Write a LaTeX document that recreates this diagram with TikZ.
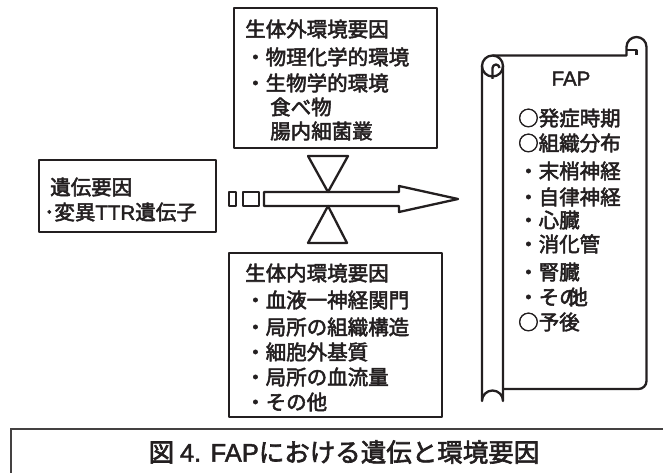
\documentclass[tikz,border=0pt]{standalone}
\usepackage{fontspec}
\setmainfont{Noto Sans CJK JP}[FakeBold=2.5]
\newfontfamily\lat{Liberation Sans}[FakeBold=1.8]
\definecolor{ink}{RGB}{35,31,32}
\begin{document}
\begin{tikzpicture}[x=1pt,y=-1pt,
  ln/.style={draw=ink,line width=2.3pt,line join=round},
  boxnode/.style={ln,rectangle,inner sep=0pt},
  txt/.style={anchor=west,inner sep=0pt,text=ink,font=\fontsize{20.5}{24}\selectfont,text height=18pt,text depth=2.5pt},
  captxt/.style={inner sep=0pt,text=ink,font=\fontsize{25.5}{30}\selectfont,text height=22.4pt,text depth=3pt}]
\useasboundingbox (0,0) rectangle (663,473);
% boxes
\node[boxnode,minimum width=203pt,minimum height=140pt] (extbox) at (335.5,78) {};
\node[boxnode,minimum width=177pt,minimum height=72pt] (genbox) at (127.5,196) {};
\node[boxnode,minimum width=213pt,minimum height=164pt] (intbox) at (335.5,335) {};
% external factors text
\node[txt] (e0) at (245,29) {生体外環境要因};
\node[txt] (e1) at (245,57) {・物理化学的環境};
\node[txt] (e2) at (245,83) {・生物学的環境};
\node[txt] (e3) at (270,107) {食べ物};
\node[txt] (e4) at (270,131) {腸内細菌叢};
% genetic text
\node[txt] (g0) at (50,187) {遺伝要因};
\node[txt] (g1) at (44,212) {･変異{\lat TTR}遺伝子};
% internal factors text
\node[txt] (i0) at (245,273) {生体内環境要因};
\node[txt] (i1) at (245,300) {・血液一神経関門};
\node[txt] (i2) at (245,327) {・局所の組織構造};
\node[txt] (i3) at (245,352) {・細胞外基質};
\node[txt] (i4) at (245,377) {・局所の血流量};
\node[txt] (i5) at (245,402) {・その他};
% small squares and arrow
\draw[ln] (229,192) rectangle (236,206);
\draw[ln] (243,192) rectangle (259,206);
\draw[ln] (264,192) -- (399,192) -- (399,186) -- (458,199) -- (399,212) -- (399,206) -- (264,206) -- cycle;
% triangles
\draw[ln] (308,156) -- (348,156) -- (328,192) -- cycle;
\draw[ln] (328,206) -- (347,243) -- (308,243) -- cycle;
% scroll: left roll
\draw[ln] (482,66) -- (482,401) arc[start angle=180,end angle=0,x radius=10.5,y radius=-10.5] -- (503,66);
\draw[ln] (492.5,66) circle[radius=10.5];
\draw[ln] (492.5,79) -- (492.5,68) arc[start angle=180,end angle=0,x radius=3.5,y radius=-3.5];
% scroll: sheet with right curl
\draw[ln] (492.5,55.5) -- (626.5,55.5) -- (626.5,47)
  arc[start angle=180,end angle=0,x radius=10,y radius=-10] -- (646.5,381)
  arc[start angle=0,end angle=90,x radius=8,y radius=8] -- (503,389);
\draw[ln] (626.5,50) -- (636.5,50) -- (636.5,55.5);
% FAP text
\node[txt,anchor=center] (f0) at (571,78) {\lat FAP};
\node[txt] (f1) at (518,118) {○発症時期};
\node[txt] (f2) at (518,143) {○組織分布};
\node[txt] (f3) at (518,171) {・末梢神経};
\node[txt] (f4) at (518,197) {・自律神経};
\node[txt] (f5) at (518,220) {・心臓};
\node[txt] (f6) at (518,244) {・消化管};
\node[txt] (f7) at (518,272) {・腎臓};
\node[txt] (f8) at (518,297) {・その\kern-0.6em 他};
\node[txt] (f9) at (518,322) {○予後};
% caption
\draw[draw=ink!85,line width=1.3pt] (663,429) -- (11,429) -- (11,473);
\node[captxt] (cap) at (344,452) {図 {\lat 4. FAP}における遺伝と環境要因};
\end{tikzpicture}
\end{document}
